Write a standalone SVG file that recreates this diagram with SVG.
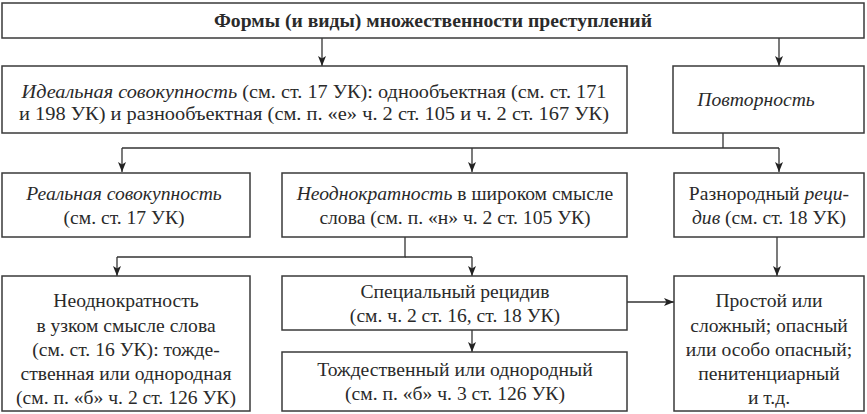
<svg xmlns="http://www.w3.org/2000/svg" width="867" height="414" viewBox="0 0 867 414">
<style>
.box{fill:#fff;stroke:#3a3a3a;stroke-width:1.5}
.t{font-family:"Liberation Serif","DejaVu Serif",serif;font-size:19.6px;fill:#2a2a2a;text-anchor:middle}
.i{font-style:italic}
.b{font-weight:bold;font-size:18px}
.c{fill:none;stroke:#333;stroke-width:1.3}
</style>
<defs>
<marker id="ah" viewBox="0 0 10 10" refX="10" refY="5" markerWidth="10" markerHeight="10" markerUnits="userSpaceOnUse" orient="auto">
<path d="M0,1 L10,5 L0,9 L2.5,5 Z" fill="#222"/>
</marker>
</defs>
<rect width="867" height="414" fill="#fff"/>
<g id="connectors">
<path class="c" d="M322,38 V66" marker-end="url(#ah)"/>
<path class="c" d="M779,38 V66" marker-end="url(#ah)"/>
<path class="c" d="M723,133 V148"/>
<path class="c" d="M122,148 H779"/>
<path class="c" d="M122,148 V172" marker-end="url(#ah)"/>
<path class="c" d="M472,148 V172" marker-end="url(#ah)"/>
<path class="c" d="M779,148 V172" marker-end="url(#ah)"/>
<path class="c" d="M405,237 V257 H117"/>
<path class="c" d="M405,257 H472"/>
<path class="c" d="M117,257 V276" marker-end="url(#ah)"/>
<path class="c" d="M472,257 V276" marker-end="url(#ah)"/>
<path class="c" d="M777,237 V276" marker-end="url(#ah)"/>
<path class="c" d="M472,330 V352" marker-end="url(#ah)"/>
<path class="c" d="M627,302 H674" marker-end="url(#ah)"/>
</g>
<g id="title">
<rect class="box" x="2" y="3" width="862" height="35"/>
<text class="t b" x="433" y="27" textLength="438" lengthAdjust="spacingAndGlyphs">Формы (и виды) множественности преступлений</text>
</g>
<g id="ideal">
<rect class="box" x="2" y="66" width="625" height="67"/>
<text class="t" x="314" y="98" textLength="585" lengthAdjust="spacingAndGlyphs"><tspan class="i">Идеальная совокупность</tspan> (см. ст. 17 УК): однообъектная (см. ст. 171</text>
<text class="t" x="314" y="120" textLength="590" lengthAdjust="spacingAndGlyphs">и 198 УК) и разнообъектная (см. п. «е» ч. 2 ст. 105 и ч. 2 ст. 167 УК)</text>
</g>
<g id="povtor">
<rect class="box" x="673" y="66" width="191" height="67"/>
<text class="t i" x="756" y="106">Повторность</text>
</g>
<g id="real">
<rect class="box" x="2" y="173" width="248" height="64"/>
<text class="t" x="124" y="200"><tspan class="i">Реальная совокупность</tspan></text>
<text class="t" x="124" y="224">(см. ст. 17 УК)</text>
</g>
<g id="neodn-wide">
<rect class="box" x="282" y="173" width="345" height="64"/>
<text class="t" x="455" y="200"><tspan class="i">Неоднократность</tspan> в широком смысле</text>
<text class="t" x="455" y="224">слова (см. п. «н» ч. 2 ст. 105 УК)</text>
</g>
<g id="raznorod">
<rect class="box" x="674" y="173" width="190" height="64"/>
<text class="t" x="769" y="200">Разнородный <tspan class="i">реци-</tspan></text>
<text class="t" x="769" y="224"><tspan class="i">див</tspan> (см. ст. 18 УК)</text>
</g>
<g id="neodn-narrow">
<rect class="box" x="2" y="276" width="248" height="135"/>
<text class="t" x="126" y="307">Неоднократность</text>
<text class="t" x="126" y="332">в узком смысле слова</text>
<text class="t" x="126" y="356">(см. ст. 16 УК): тожде-</text>
<text class="t" x="126" y="380">ственная или однородная</text>
<text class="t" x="126" y="404">(см. п. «б» ч. 2 ст. 126 УК)</text>
</g>
<g id="special">
<rect class="box" x="282" y="276" width="345" height="54"/>
<text class="t" x="455" y="298">Специальный рецидив</text>
<text class="t" x="455" y="322">(см. ч. 2 ст. 16, ст. 18 УК)</text>
</g>
<g id="tozhd">
<rect class="box" x="282" y="352" width="345" height="59"/>
<text class="t" x="455" y="376">Тождественный или однородный</text>
<text class="t" x="455" y="400">(см. п. «б» ч. 3 ст. 126 УК)</text>
</g>
<g id="prostoy">
<rect class="box" x="674" y="276" width="190" height="135"/>
<text class="t" x="769" y="307">Простой или</text>
<text class="t" x="769" y="332">сложный; опасный</text>
<text class="t" x="769" y="356">или особо опасный;</text>
<text class="t" x="769" y="380">пенитенциарный</text>
<text class="t" x="769" y="404">и т.д.</text>
</g>
</svg>
